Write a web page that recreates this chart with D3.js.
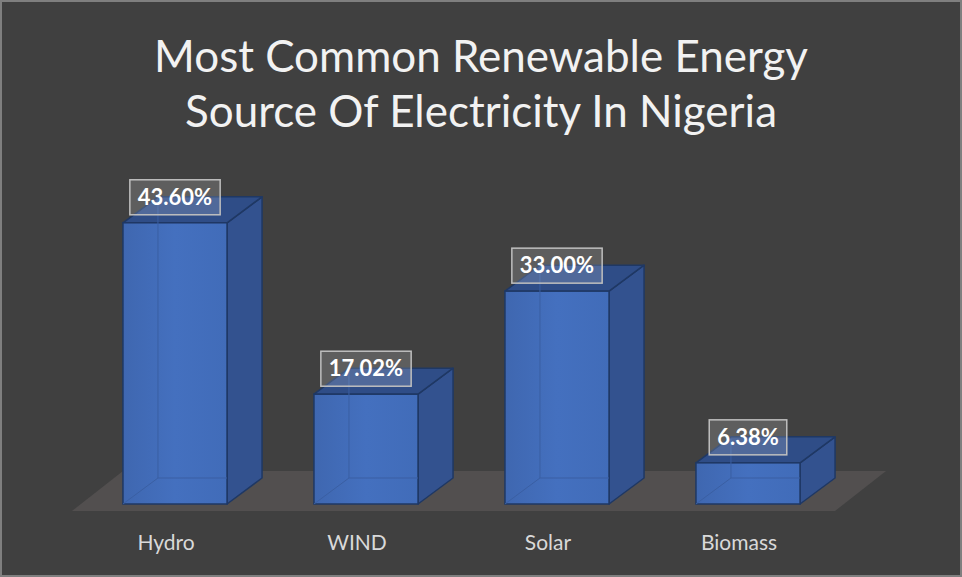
<!DOCTYPE html>
<html>
<head>
<meta charset="utf-8">
<script src="https://cdn.jsdelivr.net/npm/d3@7"></script>
<style>
  html, body { margin: 0; padding: 0; background: #ffffff; }
  svg { display: block; }
</style>
</head>
<body>
<div class="container"></div>
<script>
var width = 962, height = 577;

// chart data
var categories = ["Hydro", "WIND", "Solar", "Biomass"];
var values = [43.60, 17.02, 33.00, 6.38];
var valueLabels = ["43.60%", "17.02%", "33.00%", "6.38%"];
var titleLines = ["Most Common Renewable Energy", "Source Of Electricity In Nigeria"];

// 3d depth of bars and floor
var depth = {dx: 35, dy: -26};
var floorDepth = {dx: 51, dy: -40};
var baseY = 504;

var x_scale = d3.scaleBand()
    .domain(categories)
    .range([79.5, 843.5])
    .paddingInner(0.455)
    .paddingOuter(0.2275);

var y_scale = d3.scaleLinear()
    .domain([0, 50])
    .range([baseY, baseY - 50 * 6.45]);

var svg = d3.select("div.container").append("svg")
    .attr("width", width)
    .attr("height", height);

// background + border
svg.append("rect")
    .attr("x", 1).attr("y", 1)
    .attr("width", width - 2).attr("height", height - 2)
    .attr("fill", "#404040")
    .attr("stroke", "#7f7f7f")
    .attr("stroke-width", 2);

// title
var title = svg.append("g");
titleLines.forEach(function(t, i) {
  title.append("text")
      .attr("x", 481)
      .attr("y", 72 + i * 55)
      .attr("text-anchor", "middle")
      .attr("fill", "#f2f2f2")
      .style("font-family", "Lato, 'Open Sans', sans-serif")
      .style("font-size", "44px")
      .text(t);
});
// fit first line to ~654px
(function() {
  var first = title.select("text").node();
  var w = first.getComputedTextLength();
  var fs = 44 * 654 / w;
  title.selectAll("text").style("font-size", fs + "px");
})();

// floor
var fx0 = 72, fx1 = 835, fy = 511;
svg.append("path")
    .attr("d", "M" + fx0 + "," + fy +
               "L" + fx1 + "," + fy +
               "L" + (fx1 + floorDepth.dx) + "," + (fy + floorDepth.dy) +
               "L" + (fx0 + floorDepth.dx) + "," + (fy + floorDepth.dy) + "Z")
    .attr("fill", "#524f4f");

// gradient for front face
var defs = svg.append("defs");
var grad = defs.append("linearGradient").attr("id", "frontGrad")
    .attr("x1", "0").attr("x2", "1").attr("y1", "0").attr("y2", "0");
grad.append("stop").attr("offset", "0%").attr("stop-color", "#3f67b0");
grad.append("stop").attr("offset", "50%").attr("stop-color", "#4470bf");
grad.append("stop").attr("offset", "100%").attr("stop-color", "#416cb9");

var bars = svg.selectAll("g.bar")
    .data(categories)
    .enter().append("g")
    .attr("class", "bar");

bars.each(function(c, i) {
  var g = d3.select(this);
  var x0 = x_scale(c), x1 = x0 + x_scale.bandwidth();
  var yt = y_scale(values[i]), yb = y_scale(0);
  var dx = depth.dx, dy = depth.dy;

  // side face
  g.append("path")
      .attr("d", "M" + x1 + "," + yt + "L" + (x1 + dx) + "," + (yt + dy) +
                 "L" + (x1 + dx) + "," + (yb + dy) + "L" + x1 + "," + yb + "Z")
      .attr("fill", "#33528f")
      .attr("stroke", "#1f3864")
      .attr("stroke-width", 1.5)
      .attr("stroke-linejoin", "round");

  // top face
  g.append("path")
      .attr("d", "M" + x0 + "," + yt + "L" + (x0 + dx) + "," + (yt + dy) +
                 "L" + (x1 + dx) + "," + (yt + dy) + "L" + x1 + "," + yt + "Z")
      .attr("fill", "#2f4d87")
      .attr("stroke", "#1f3864")
      .attr("stroke-width", 1.5)
      .attr("stroke-linejoin", "round");

  // front face
  g.append("rect")
      .attr("x", x0).attr("y", yt)
      .attr("width", x1 - x0).attr("height", yb - yt)
      .attr("fill", "url(#frontGrad)")
      .attr("stroke", "#1f3864")
      .attr("stroke-width", 1.5);

  // faint hidden edges seen through the bar
  g.append("path")
      .attr("d", "M" + (x0 + dx) + "," + (yt + dy + 2) + "L" + (x0 + dx) + "," + (yb + dy) +
                 "L" + x0 + "," + yb +
                 "M" + (x0 + dx) + "," + (yb + dy) + "L" + (x1) + "," + (yb + dy))
      .attr("fill", "none")
      .attr("stroke", "#3a5fa3")
      .attr("stroke-width", 1);

  // value label
  var cx = x0 + x_scale.bandwidth() / 2;
  var by = yt - 8;
  var lab = g.append("g");
  var txt = lab.append("text")
      .attr("x", cx)
      .attr("y", by - 10)
      .attr("text-anchor", "middle")
      .attr("fill", "#ffffff")
      .style("font-family", "Lato, 'Open Sans', sans-serif")
      .style("font-weight", "bold")
      .style("font-size", "22px")
      .text(valueLabels[i]);
  var bw = txt.node().getComputedTextLength() + 16;
  lab.insert("rect", "text")
      .attr("x", cx - bw / 2)
      .attr("y", by - 35)
      .attr("width", bw)
      .attr("height", 35)
      .attr("fill", "rgba(255,255,255,0.16)")
      .attr("stroke", "#bfbfbf")
      .attr("stroke-width", 1.5);

  // category label
  g.append("text")
      .attr("x", cx - 9)
      .attr("y", 550)
      .attr("text-anchor", "middle")
      .attr("fill", "#d9d9d9")
      .style("font-family", "Lato, 'Open Sans', sans-serif")
      .style("font-size", "21px")
      .text(c);
});
</script>
</body>
</html>
